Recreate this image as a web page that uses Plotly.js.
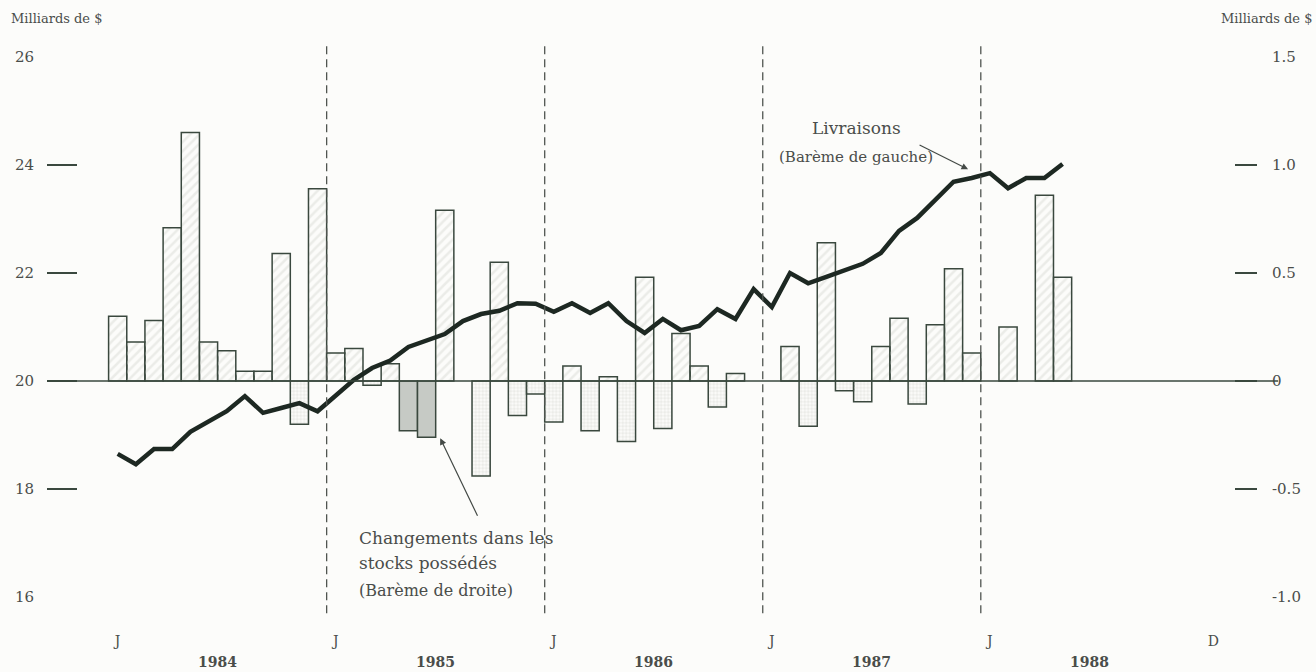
<!DOCTYPE html>
<html>
<head>
<meta charset="utf-8">
<script src="https://cdn.plot.ly/plotly-3.0.1.min.js"></script>
<style>
html,body{margin:0;padding:0;background:#fcfcfa;}
#chart{width:1316px;height:672px;}
</style>
</head>
<body>
<div id="chart"></div>
<script>
// Months Jan 1984 .. May 1988
const years = [1984, 1985, 1986, 1987, 1988];
const months = [];
years.forEach(y => { for (let m = 1; m <= 12; m++) { if (y === 1988 && m > 5) break; months.push(y + '-' + String(m).padStart(2, '0')); } });

// Livraisons (Milliards de $, left scale)
const deliveries = [
  18.65, 18.46, 18.74, 18.74, 19.06, 19.24, 19.44, 19.72, 19.41, 19.50, 19.59, 19.44,
  19.74, 20.02, 20.24, 20.38, 20.63, 20.76, 20.87, 21.11, 21.24, 21.30, 21.44, 21.43,
  21.28, 21.44, 21.26, 21.44, 21.11, 20.89, 21.15, 20.94, 21.02, 21.33, 21.15, 21.70,
  21.37, 22.00, 21.81, 21.93, 22.04, 22.17, 22.37, 22.78, 23.02, 23.37, 23.69, 23.76,
  23.85, 23.57, 23.76, 23.76, 24.02
];

// Changements dans les stocks possédés (Milliards de $, right scale)
const stockChanges = [
  0.30, 0.18, 0.28, 0.71, 1.15, 0.18, 0.14, 0.045, 0.045, 0.59, -0.20, 0.89,
  0.13, 0.15, -0.02, 0.08, -0.23, -0.26, 0.79, null, -0.44, 0.55, -0.16, -0.06,
  -0.19, 0.07, -0.23, 0.02, -0.28, 0.48, -0.22, 0.22, 0.07, -0.12, 0.035, null,
  null, 0.16, -0.21, 0.64, -0.045, -0.096, 0.16, 0.29, -0.106, 0.26, 0.52, 0.13,
  null, 0.25, null, 0.86, 0.48
];
const shadedMonths = ['1985-05', '1985-06'];

const leftTicks = [16, 18, 20, 22, 24, 26];
const rightTicks = [-1.0, -0.5, 0, 0.5, 1.0, 1.5];
const rightTickText = ['-1.0', '-0.5', '0', '0.5', '1.0', '1.5'];
const monthTickLabels = ['J', 'J', 'J', 'J', 'J', 'D'];
const monthTickPos = ['1984-01', '1985-01', '1986-01', '1987-01', '1988-01'];
const yearLabels = ['1984', '1985', '1986', '1987', '1988'];

const xIdx = months.map((_, i) => i);
const idxOf = m => months.indexOf(m);

const isNeg = v => v !== null && v < 0;
const patShapes = stockChanges.map((v, i) => shadedMonths.includes(months[i]) ? '' : (isNeg(v) ? '.' : '/'));
const barColors = stockChanges.map((v, i) => shadedMonths.includes(months[i]) ? '#c6cac5' : '#ebece8');
const patSizes = stockChanges.map(v => isNeg(v) ? 3.5 : 6.5);
const patSolid = stockChanges.map(v => isNeg(v) ? 0.6 : 0.38);

const serif = 'DejaVu Serif, Liberation Serif, serif';
const txt = '#4a4d4a';
const ink = '#3a483e';

const traces = [
  {
    type: 'bar', x: xIdx, y: stockChanges, yaxis: 'y', width: 1,
    marker: {
      color: barColors,
      line: { color: ink, width: 1.5 },
      pattern: { shape: patShapes, fgcolor: '#3f4b43', size: patSizes, solidity: patSolid }
    }
  },
  {
    type: 'scatter', mode: 'lines', x: xIdx, y: deliveries, yaxis: 'y2',
    line: { color: '#1d2822', width: 4.5 }
  }
];

const yearBounds = [11.5, 23.5, 35.5, 47.5];
const shapes = yearBounds.map(b => ({
  type: 'line', xref: 'x', yref: 'paper', x0: b, x1: b, y0: -0.03, y1: 1.02,
  line: { color: '#505550', width: 1.3, dash: '8px,5px' }
}));
shapes.push({ type: 'line', xref: 'paper', yref: 'y', x0: 0, x1: 1.0175, y0: 0, y1: 0,
  line: { color: ink, width: 1.5 } });

const annotations = [
  { xref: 'paper', yref: 'paper', x: -0.031, y: 1.072, xanchor: 'left', yanchor: 'middle',
    text: 'Milliards de $', showarrow: false, font: { family: serif, size: 13, color: txt } },
  { xref: 'paper', yref: 'paper', x: 1.047, y: 1.072, xanchor: 'right', yanchor: 'middle',
    text: 'Milliards de $', showarrow: false, font: { family: serif, size: 13, color: txt } },
  { xref: 'paper', yref: 'paper', x: 0.6686, y: (597 - 128) / 540, xanchor: 'center', yanchor: 'middle',
    text: 'Livraisons', showarrow: false, font: { family: serif, size: 17, color: txt } },
  { xref: 'paper', yref: 'paper', x: 0.6686, y: (597 - 157) / 540, xanchor: 'center', yanchor: 'middle',
    text: '(Barème de gauche)', showarrow: false, font: { family: serif, size: 15, color: txt } },
  { xref: 'paper', yref: 'paper', x: 0.2562, y: (597 - 538) / 540, xanchor: 'left', yanchor: 'middle',
    text: 'Changements dans les', showarrow: false, font: { family: serif, size: 17, color: txt } },
  { xref: 'paper', yref: 'paper', x: 0.2562, y: (597 - 563) / 540, xanchor: 'left', yanchor: 'middle',
    text: 'stocks possédés', showarrow: false, font: { family: serif, size: 17, color: txt } },
  { xref: 'paper', yref: 'paper', x: 0.2562, y: (597 - 590) / 540, xanchor: 'left', yanchor: 'middle',
    text: '(Barème de droite)', showarrow: false, font: { family: serif, size: 16, color: txt } },
  { xref: 'x', yref: 'y2', x: 46.8, y: 23.92, text: '', showarrow: true, ax: -50, ay: -25,
    arrowhead: 2, arrowsize: 1.1, arrowwidth: 1.2, arrowcolor: '#444a46' },
  { xref: 'x', yref: 'y2', x: 17.75, y: 18.94, text: '', showarrow: true, ax: 38, ay: 79,
    arrowhead: 2, arrowsize: 1.1, arrowwidth: 1.2, arrowcolor: '#444a46' }
];
yearLabels.forEach((yl, k) => {
  annotations.push({ xref: 'x', yref: 'paper', x: idxOf(monthTickPos[k]) + 5.5, y: -0.12,
    xanchor: 'center', yanchor: 'middle', text: '<b>' + yl + '</b>', showarrow: false,
    font: { family: serif, size: 14, color: txt } });
});

const tickvals = monthTickPos.map(idxOf).concat([months.length + 7.3]);

const layout = {
  width: 1316, height: 672,
  margin: { l: 47, r: 59, t: 57, b: 75 },
  paper_bgcolor: '#fcfcfa', plot_bgcolor: 'rgba(0,0,0,0)',
  showlegend: false, bargap: 0,
  xaxis: {
    range: [-3.89, 62.7], showgrid: false, zeroline: false, showline: false,
    ticks: '', tickvals: tickvals, ticktext: monthTickLabels, ticklabelstandoff: 34,
    tickfont: { family: serif, size: 14, color: txt }
  },
  yaxis: {
    range: [-1, 1.5], side: 'right', tickvals: rightTicks, ticktext: rightTickText,
    showgrid: false, zeroline: false, showline: false,
    ticks: 'inside', ticklen: 22, tickwidth: 1.5, tickcolor: ink, ticklabelstandoff: 14,
    tickfont: { family: serif, size: 15, color: txt }
  },
  yaxis2: {
    range: [16, 26], overlaying: 'y', side: 'left', tickvals: leftTicks,
    showgrid: false, zeroline: false, showline: false,
    ticks: 'inside', ticklen: 30, tickwidth: 1.5, tickcolor: ink, ticklabelstandoff: 12,
    tickfont: { family: serif, size: 15, color: txt }
  },
  shapes: shapes,
  annotations: annotations
};

Plotly.newPlot('chart', traces, layout, { displayModeBar: false, staticPlot: true });
</script>
</body>
</html>
